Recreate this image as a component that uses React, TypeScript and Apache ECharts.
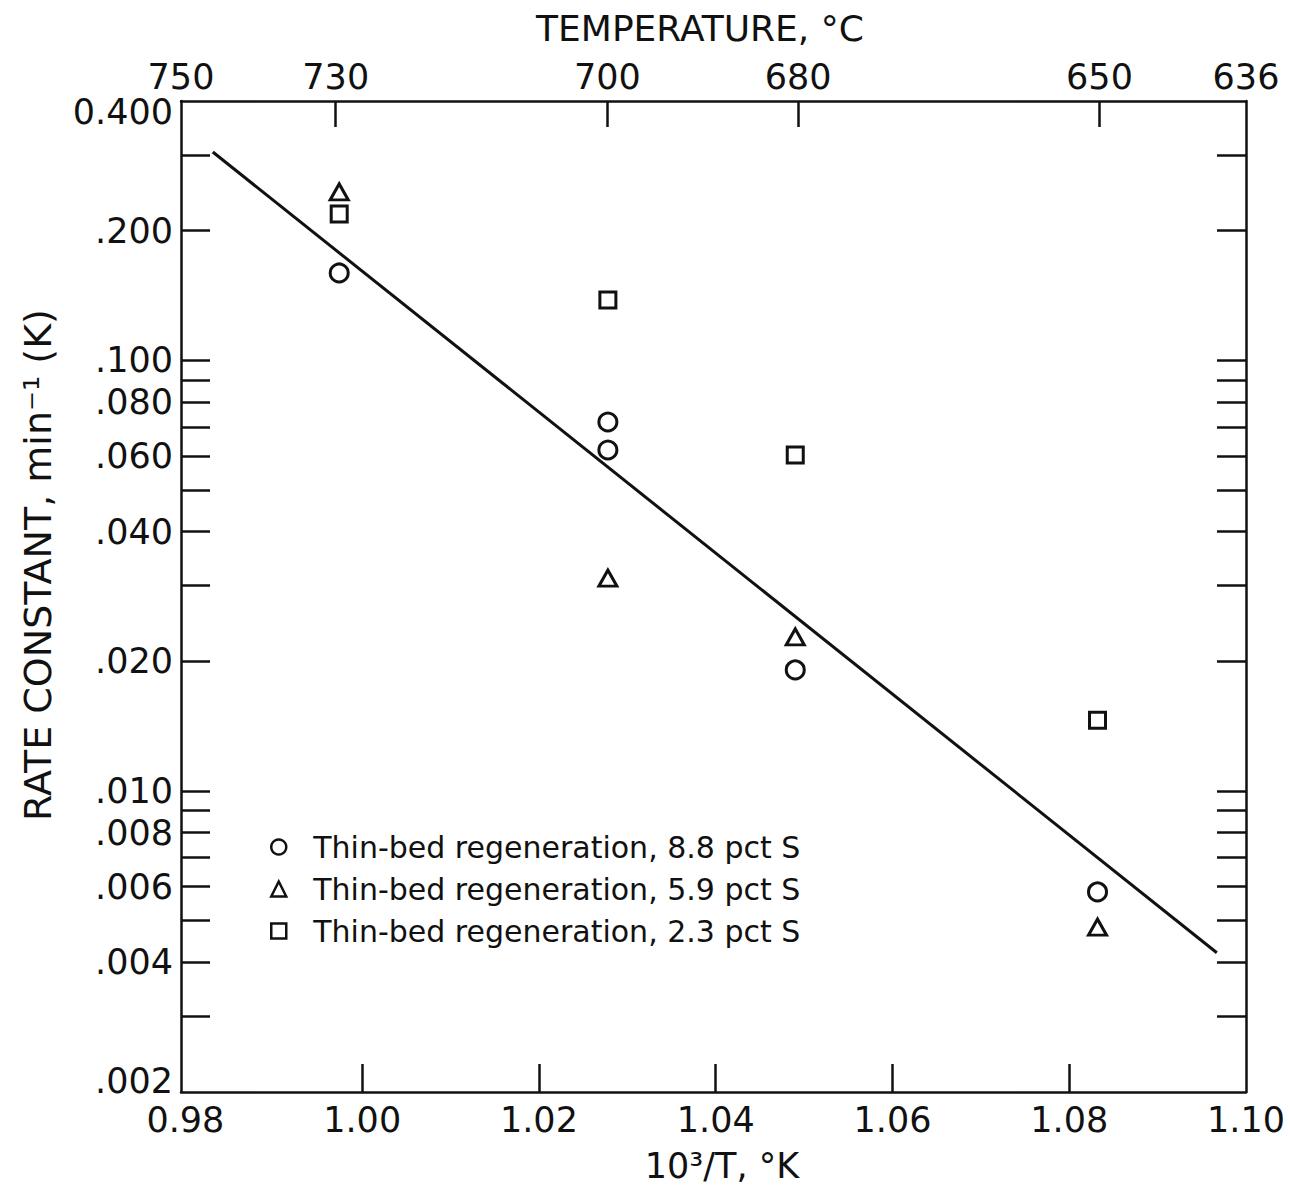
import React, { useEffect, useRef } from "react";
import * as echarts from "echarts";

// ---- data ----
const seriesNames = [
  "Thin-bed regeneration, 8.8 pct S",
  "Thin-bed regeneration, 5.9 pct S",
  "Thin-bed regeneration, 2.3 pct S",
];
const xCircle = [0.9974, 1.0278, 1.0278, 1.049, 1.0832];
const kCircle = [0.1595, 0.0719, 0.0619, 0.0191, 0.00583];
const xTriangle = [0.9974, 1.0278, 1.049, 1.0832];
const kTriangle = [0.246, 0.0312, 0.0228, 0.00483];
const xSquare = [0.9974, 1.0278, 1.049, 1.0832];
const kSquare = [0.2187, 0.1381, 0.0603, 0.0146];
const lineX = [0.9831, 1.0967];
const lineK = [0.3045, 0.00421];

const xTickLabels = [0.98, 1.0, 1.02, 1.04, 1.06, 1.08, 1.1];
const xTickMarks = [1.0, 1.02, 1.04, 1.06, 1.08];
const tempLabels = [750, 730, 700, 680, 650, 636];
const tempTicks = [730, 700, 680, 650];
const kTickLabels = [0.4, 0.2, 0.1, 0.08, 0.06, 0.04, 0.02, 0.01, 0.008, 0.006, 0.004, 0.002];
const kTickMarks = [
  0.3, 0.2, 0.1, 0.09, 0.08, 0.07, 0.06, 0.05, 0.04, 0.03, 0.02, 0.01, 0.009, 0.008, 0.007,
  0.006, 0.005, 0.004, 0.003,
];

const X_MIN = 0.9795;
const X_MAX = 1.1;
const K_MIN = 0.002;
const K_MAX = 0.4;

const FONT = "DejaVu Sans";
const INK = "#111111";

const invT = (c: number) => Math.min(X_MAX, Math.max(X_MIN, 1000 / (c + 273)));

export default function App() {
  const ref = useRef<HTMLDivElement>(null);

  useEffect(() => {
    if (!ref.current) return;
    const chart = echarts.init(ref.current, null, { renderer: "svg" });

    const tempLabelPos = tempLabels.map(invT);
    const tempTickPos = tempTicks.map(invT);

    const hollow = { color: "#ffffff", borderColor: INK, borderWidth: 3, opacity: 1 };
    const axisLineStyle = { color: INK, width: 2.5 };

    const option: any = {
      animation: false,
      backgroundColor: "#ffffff",
      grid: { left: 181, right: 44, top: 101, bottom: 97 },
      xAxis: [
        {
          type: "value",
          position: "bottom",
          min: X_MIN,
          max: X_MAX,
          axisLine: { show: true, onZero: false, lineStyle: axisLineStyle },
          axisTick: {
            show: true,
            inside: true,
            length: 28,
            customValues: xTickMarks,
            lineStyle: axisLineStyle,
          },
          axisLabel: {
            customValues: xTickLabels,
            formatter: (v: number) => v.toFixed(2),
            fontFamily: FONT,
            fontSize: 35,
            color: INK,
            margin: 10,
          },
          splitLine: { show: false },
        },
        {
          type: "value",
          position: "top",
          min: X_MIN,
          max: X_MAX,
          axisLine: { show: true, onZero: false, lineStyle: axisLineStyle },
          axisTick: {
            show: true,
            inside: true,
            length: 26,
            customValues: tempTickPos,
            lineStyle: axisLineStyle,
          },
          axisLabel: {
            customValues: tempLabelPos,
            formatter: (v: number) => {
              let best = 0;
              let bd = Infinity;
              tempLabelPos.forEach((p, i) => {
                const d = Math.abs(p - v);
                if (d < bd) {
                  bd = d;
                  best = i;
                }
              });
              return String(tempLabels[best]);
            },
            fontFamily: FONT,
            fontSize: 35,
            color: INK,
            margin: 7,
          },
          splitLine: { show: false },
        },
      ],
      yAxis: [
        {
          type: "log",
          logBase: 10,
          position: "left",
          min: K_MIN,
          max: K_MAX,
          axisLine: { show: true, onZero: false, lineStyle: axisLineStyle },
          axisTick: {
            show: true,
            inside: true,
            length: 29,
            customValues: kTickMarks,
            lineStyle: axisLineStyle,
          },
          minorTick: { show: false },
          axisLabel: {
            customValues: kTickLabels,
            formatter: (v: number) => {
              if (v >= 0.399) return "{top|0.400}";
              const s = v.toFixed(3).replace(/^0/, "");
              if (v <= 0.00201) return "{bot|" + s + "}";
              return s;
            },
            rich: {
              top: {
                fontFamily: FONT,
                fontSize: 35,
                color: INK,
                padding: [22, 0, 0, 0],
              },
              bot: {
                fontFamily: FONT,
                fontSize: 35,
                color: INK,
                padding: [0, 0, 22, 0],
              },
            },
            fontFamily: FONT,
            fontSize: 35,
            color: INK,
            margin: 8,
          },
          splitLine: { show: false },
        },
        {
          type: "log",
          logBase: 10,
          position: "right",
          min: K_MIN,
          max: K_MAX,
          axisLine: { show: true, onZero: false, lineStyle: axisLineStyle },
          axisTick: {
            show: true,
            inside: true,
            length: 29,
            customValues: kTickMarks,
            lineStyle: axisLineStyle,
          },
          axisLabel: { show: false },
          splitLine: { show: false },
        },
      ],
      legend: {
        data: seriesNames,
        orient: "vertical",
        left: 265,
        top: 826,
        itemWidth: 15,
        itemHeight: 15,
        itemGap: 10,
        selectedMode: false,
        itemStyle: { color: "#ffffff", borderColor: INK, borderWidth: 2.5, opacity: 1 },
        textStyle: {
          fontFamily: FONT,
          fontSize: 30,
          color: INK,
          lineHeight: 32,
          padding: [0, 0, 0, 22],
        },
      },
      graphic: [
        {
          type: "text",
          style: {
            text: "TEMPERATURE, °C",
            x: 700,
            y: 28,
            align: "center",
            verticalAlign: "middle",
            fontFamily: FONT,
            fontSize: 36,
            fill: INK,
          },
        },
        {
          type: "text",
          style: {
            text: "10³/T, °K",
            x: 722,
            y: 1166,
            align: "center",
            verticalAlign: "middle",
            fontFamily: FONT,
            fontSize: 35,
            fill: INK,
          },
        },
        {
          type: "text",
          x: 38,
          y: 565,
          rotation: Math.PI / 2,
          style: {
            text: "RATE CONSTANT, min⁻¹ (K)",
            x: 0,
            y: 0,
            align: "center",
            verticalAlign: "middle",
            fontFamily: FONT,
            fontSize: 38,
            fill: INK,
          },
        },
      ],
      series: [
        {
          name: "fit",
          type: "line",
          xAxisIndex: 0,
          yAxisIndex: 0,
          data: lineX.map((x, i) => [x, lineK[i]]),
          showSymbol: false,
          symbol: "none",
          lineStyle: { color: INK, width: 3 },
          silent: true,
        },
        {
          name: seriesNames[0],
          type: "scatter",
          xAxisIndex: 0,
          yAxisIndex: 0,
          symbol: "circle",
          symbolSize: 18,
          itemStyle: hollow,
          data: xCircle.map((x, i) => [x, kCircle[i]]),
        },
        {
          name: seriesNames[1],
          type: "scatter",
          xAxisIndex: 0,
          yAxisIndex: 0,
          symbol: "triangle",
          symbolSize: [18, 16],
          itemStyle: hollow,
          data: xTriangle.map((x, i) => [x, kTriangle[i]]),
        },
        {
          name: seriesNames[2],
          type: "scatter",
          xAxisIndex: 0,
          yAxisIndex: 0,
          symbol: "rect",
          symbolSize: 16,
          itemStyle: hollow,
          data: xSquare.map((x, i) => [x, kSquare[i]]),
        },
      ],
    };

    chart.setOption(option);
    return () => chart.dispose();
  }, []);

  return (
    <div
      ref={ref}
      style={{ position: "fixed", left: 0, top: 0, width: 1290, height: 1189, background: "#fff" }}
    />
  );
}
